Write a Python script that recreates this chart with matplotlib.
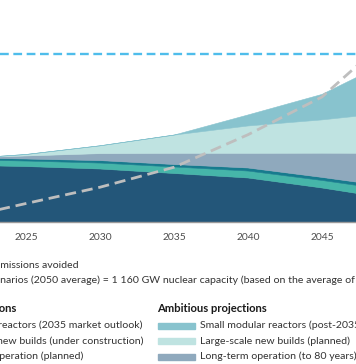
import matplotlib
matplotlib.use("Agg")
import matplotlib.pyplot as plt
import numpy as np

plt.rcParams['font.family'] = ['Lato', 'DejaVu Sans']
plt.rcParams['lines.scale_dashes'] = False

# 数据 (GW)
years = [2023, 2025, 2030, 2035, 2040, 2045, 2050]
existing = [387, 383, 366, 335, 304, 235, 155]
smr_outlook = [38, 38, 41, 45, 48, 52, 59]
new_builds_uc = [14, 14, 17, 17, 21, 21, 24]
lto_80 = [10, 21, 48, 77, 101, 167, 236]
new_builds_planned = [3, 10, 54, 126, 189, 230, 285]
smr_post2035 = [0, 0, 0, 0, 76, 176, 373]
ipcc_target = 1160
# 累计减排 (Gt CO2)
co2_avoided = [1.6, 2.5, 4.7, 7.4, 11.8, 16.9, 25.8]
tick_years = [2025, 2030, 2035, 2040, 2045]

layer_colors = ['#235679', '#46b5a9', '#177b8e', '#8fa9bd', '#bfe3e1', '#88c3ce']

W, H = 356, 364
fig = plt.figure(figsize=(W / 100, H / 100), dpi=100)
ax = fig.add_axes([0, (H - 222) / H, 1, 222 / H])

ys = [existing, smr_outlook, new_builds_uc, lto_80, new_builds_planned, smr_post2035]
polys = ax.stackplot(years, ys, colors=layer_colors, linewidth=0.4)
for p, c in zip(polys, layer_colors):
    p.set_edgecolor(c)

ax.axhline(ipcc_target, color='#4fbdeb', lw=1.7, dashes=(6.3, 3.3))

ax.set_xlim(2025 - 26 / 14.8, 2025 + 330 / 14.8)
ax.set_ylim(0, ipcc_target * 222 / 168)

for s in ['top', 'left', 'right']:
    ax.spines[s].set_visible(False)
ax.spines['bottom'].set_color('#9a9a9a')
ax.spines['bottom'].set_linewidth(1.0)
ax.set_yticks([])
ax.set_xticks(tick_years)
ax.set_xticklabels([str(t) for t in tick_years])
ax.tick_params(axis='x', length=0, pad=8, labelsize=7.4, labelcolor='#4d4d4d')

ax2 = ax.twinx()
ax2.plot(years, co2_avoided, color='#bebebe', lw=2.0, dashes=(8, 4.2))
ax2.set_ylim(0, 30)
ax2.set_yticks([])
for s in ax2.spines.values():
    s.set_visible(False)


def fx(x):
    return x / W


def fy(y):
    return 1 - y / H


fs = 7.55
txt = dict(fontsize=fs, color='#333333', va='center')

# 线条图例
fig.text(fx(78.5), fy(265.3), "Cumulative CO\u2082 emissions avoided", ha='right', **txt)
renderer = fig.canvas.get_renderer()
tmp = fig.text(0, 0, "IPCC sce", fontsize=fs)
w = tmp.get_window_extent(renderer).width
tmp.remove()
fig.text(fx(0.5 - w), fy(280.5),
         "IPCC scenarios (2050 average) = 1 160 GW nuclear capacity "
         "(based on the average of IPCC pathways)", ha='left', **txt)

# 左列
fig.text(fx(16), fy(309), "Conservative projections", ha='right', fontsize=8.1,
         fontweight='bold', color='#1a1a1a', va='center')
left_labels = ["Small modular reactors (2035 market outlook)",
               "Large-scale new builds (under construction)",
               "Long-term operation (planned)"]
left_ends = [142.7, 144, 83.3]
rows = [325.5, 341, 356.5]
for lab, xe, yr in zip(left_labels, left_ends, rows):
    fig.text(fx(xe), fy(yr), lab, ha='right', **txt)

# 右列
fig.text(fx(157.5), fy(308.7), "Ambitious projections", ha='left', fontsize=8.1,
         fontweight='bold', color='#1a1a1a', va='center')
right_labels = ["Small modular reactors (post-2035)",
                "Large-scale new builds (planned)",
                "Long-term operation (to 80 years)"]
right_colors = ['#88c3ce', '#bfe3e1', '#8fa9bd']
for lab, c, yr in zip(right_labels, right_colors, rows):
    fig.patches.append(plt.Rectangle((fx(157.5), fy(yr + 3)), 37.5 / W, 6 / H,
                                     transform=fig.transFigure, color=c))
    fig.text(fx(200), fy(yr), lab, ha='left', **txt)

plt.savefig("out.png", dpi=100)
